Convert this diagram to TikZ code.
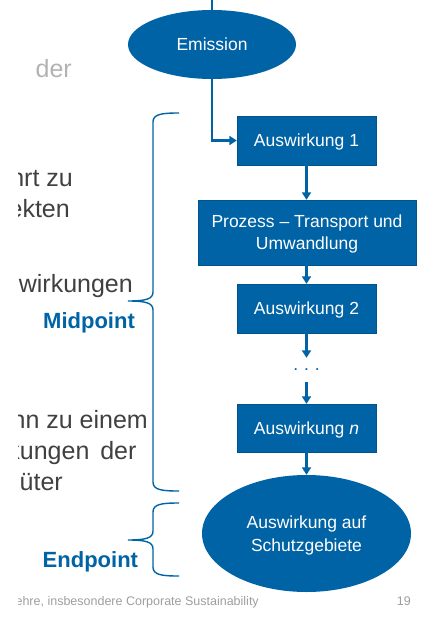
\documentclass[tikz,border=0pt]{standalone}
\usepackage{fontspec}
\setmainfont{Liberation Sans}
\usetikzlibrary{arrows.meta,shapes.geometric}
\definecolor{unblue}{RGB}{0,99,166}
\def\sidebrace(#1:#2:#3){\draw[brace line] (179,#1) .. controls (162,#1) and (153,#1+1) .. (153,#1+9) -- (153,#2-9) .. controls (153,#2-2) and (146,#2) .. (128,#2) .. controls (146,#2) and (153,#2+2) .. (153,#2+9) -- (153,#3-9) .. controls (153,#3-1) and (162,#3) .. (179,#3);}
\tikzset{
  box/.style={draw=unblue!85!black, fill=unblue, text=white, minimum width=139pt, minimum height=49pt, inner sep=0pt, text depth=0pt, align=center, font=\fontsize{17.5}{22}\selectfont},
  oval/.style={ellipse, fill=unblue, text=white, inner sep=0pt, text depth=0pt, align=center, font=\fontsize{17.5}{22.5}\selectfont},
  flow/.style={draw=unblue, line width=2.2pt, -{Triangle[width=9pt,length=7.5pt]}},
  flow line/.style={draw=unblue, line width=2.4pt},
  brace line/.style={draw=unblue, line width=1.4pt},
  side text/.style={anchor=base east, inner sep=0pt, text=black!75, font=\fontsize{25}{30}\selectfont},
  foot text/.style={anchor=base east, inner sep=0pt, text=black!38, font=\fontsize{12.5}{15}\selectfont},
  point text/.style={anchor=base west, inner sep=0pt, text=unblue, font=\fontsize{22}{26}\selectfont\bfseries}
}
\begin{document}
\begin{tikzpicture}[x=1pt, y=-1pt]
			%%%%% START %%%%%
			\useasboundingbox (0,0) rectangle (423,637);
			
			\begin{scope}
				\clip (18,0) rectangle (423,637);
				\node[side text, text=black!30] (t0) at (72,77) {der};
				\node[side text] (t1) at (73,186) {hrt zu};
				\node[side text] (t2) at (70,217) {ekten};
				\node[side text] (t3) at (133,292) {wirkungen};
				\node[side text] (t4) at (148,428) {hn zu einem};
				\node[side text] (t5) at (136.7,459) {kungen\hspace{4pt} der};
				\node[side text] (t6) at (63,490) {güter};
				\node[foot text] (foot) at (259,605) {ehre, insbesondere Corporate Sustainability};
			\end{scope}
			\node[foot text] (page) at (411,605) {19};
			
			\node[point text] (mid) at (43,328) {Midpoint};
			\node[point text] (end) at (42.5,567) {Endpoint};
			
			\sidebrace(113:301:491)
			\sidebrace(503:540:576)
			
			\coordinate (top) at (212,0);
			\node[oval, minimum width=168pt, minimum height=69pt] (emis) at (212,44.5) {Emission};
			\node[box] (aus1) at (306.5,140.5) {Auswirkung 1};
			\node[box, minimum width=218pt, minimum height=65pt] (proz) at (307,232.5) {Prozess -- Transport und\\Umwandlung};
			\node[box] (aus2) at (306.5,308.5) {Auswirkung 2};
			\node[inner sep=0pt, minimum height=24pt, text=unblue, font=\fontsize{17.5}{22}\selectfont] (dots) at (306.5,370) {.\,\,.\,\,.};
			\node[box, minimum height=48pt] (ausn) at (306.5,428) {Auswirkung \textit{n}};
			\node[oval, minimum width=209pt, minimum height=117pt] (schutz) at (306.5,533.5) {Auswirkung auf\\Schutzgebiete};
			
			\draw[flow line] (top) -- (emis.north);
			\draw[flow] (emis.south) |- (aus1.west);
			\draw[flow] (aus1.south) -- (proz.north -| aus1.south);
			\draw[flow] (proz.south -| aus2.north) -- (aus2.north);
			\draw[flow] (aus2.south) -- (dots.north);
			\draw[flow] (dots.south) -- (ausn.north);
			\draw[flow] (ausn.south) -- (schutz.north);
			
			%%%%% END %%%%%
\end{tikzpicture}
\end{document}
